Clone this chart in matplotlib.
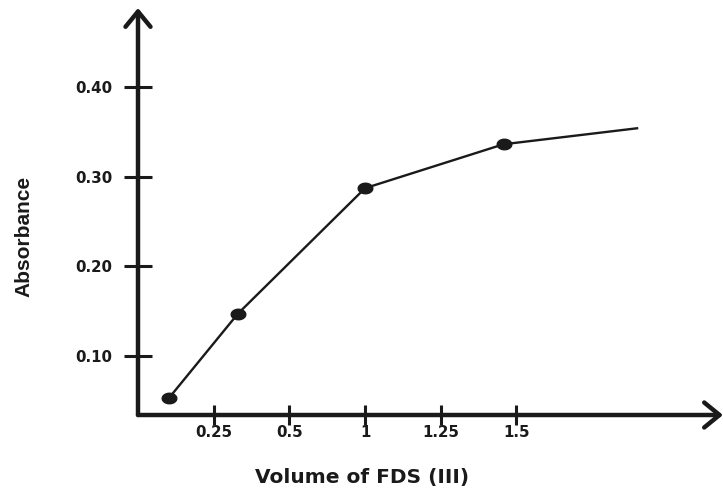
import numpy as np
import matplotlib
matplotlib.use("Agg")
import matplotlib.pyplot as plt
from matplotlib.path import Path

# x ticks are evenly spaced categories; curve positions are in tick units
x_labels = ['0.25', '0.5', '1', '1.25', '1.5']
x_ticks = [1, 2, 3, 4, 5]
y_ticks = [0.10, 0.20, 0.30, 0.40]
y_labels = ['0.10', '0.20', '0.30', '0.40']

# measured points (last one is the unmarked end of the curve)
x_pos = [0.41, 1.32, 3.0, 4.83, 6.61]
absorbance = [0.053, 0.147, 0.287, 0.336, 0.354]
n_marked = 4

ink = '#1a1a1a'
W, H = 723, 490

fig = plt.figure(figsize=(W / 100, H / 100), dpi=100)
ax = fig.add_axes([138 / W, (H - 415) / H, (723 - 138) / W, (415 - 8) / H])
ax.set_xlim(0, 7.73)
ax.set_ylim(0.034, 0.488)

for s in ax.spines.values():
    s.set_visible(False)

# axes drawn as arrows
arrow = dict(arrowstyle='->,head_length=0.55,head_width=0.45', lw=3.2,
             color=ink, shrinkA=0, shrinkB=0, mutation_scale=20)
ax.annotate('', xy=(0, 1), xytext=(0, 0), xycoords='axes fraction',
            arrowprops=arrow, annotation_clip=False)
ax.annotate('', xy=(1, 0), xytext=(0, 0), xycoords='axes fraction',
            arrowprops=arrow, annotation_clip=False)

# slightly flattened dot for the markers
t = np.linspace(0, 2 * np.pi, 60)
dot = Path(np.column_stack([np.cos(t), 0.72 * np.sin(t)]), closed=True)

ax.plot(x_pos, absorbance, color=ink, lw=1.7, solid_capstyle='butt', zorder=3)
ax.plot(x_pos[:n_marked], absorbance[:n_marked], ls='none', marker=dot,
        ms=10.5, color=ink, zorder=4)

ax.set_xticks(x_ticks)
ax.set_xticklabels(x_labels)
ax.set_yticks(y_ticks)
ax.set_yticklabels(y_labels)
ax.tick_params(axis='x', direction='inout', length=13.7, width=2.2,
               color=ink, pad=0)
ax.tick_params(axis='y', direction='inout', length=20, width=2.2,
               color=ink, pad=8.3)
for lab in ax.get_xticklabels() + ax.get_yticklabels():
    lab.set_fontfamily('DejaVu Sans')
    lab.set_fontweight('bold')
    lab.set_fontsize(10.8)
    lab.set_color(ink)

fig.text(362 / W, 1 - 477 / H, 'Volume of FDS (III)', ha='center', va='center',
         fontsize=14.5, fontweight='bold', family='DejaVu Sans', color=ink)
fig.text(24 / W, 1 - 236 / H, 'Absorbance', rotation=90, ha='center',
         va='center', fontsize=15, fontweight='semibold',
         family=['Liberation Sans', 'DejaVu Sans'], color=ink)

fig.savefig('out.png', dpi=100)
